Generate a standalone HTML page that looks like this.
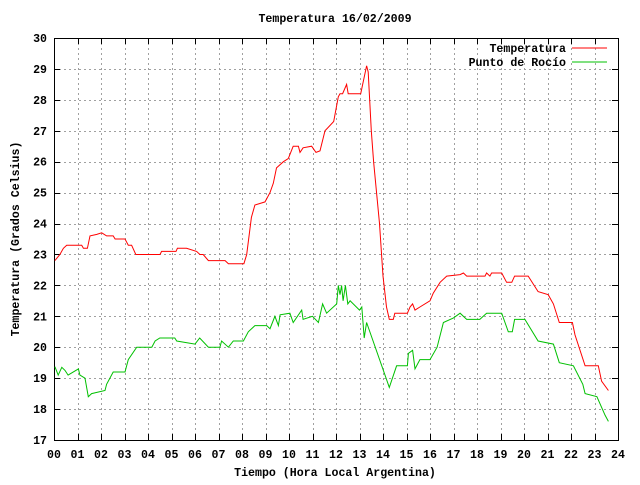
<!DOCTYPE html>
<html><head><meta charset="utf-8"><style>
body{margin:0;background:#fff}
svg text{font-family:"Liberation Mono","DejaVu Sans Mono",monospace;font-weight:bold;font-size:11.6px;fill:#000}
</style></head><body>
<svg width="640" height="480" viewBox="0 0 640 480">
<rect width="640" height="480" fill="#fff"/>
<g id="grid"></g>
<g id="axes"></g>
<g id="series"></g>
<text x="335" y="22" text-anchor="middle">Temperatura 16/02/2009</text>
<text x="335" y="476" text-anchor="middle">Tiempo (Hora Local Argentina)</text>
<text x="0" y="0" text-anchor="middle" transform="translate(19,239) rotate(-90)">Temperatura (Grados Celsius)</text>
<g>
<text x="566" y="52" text-anchor="end">Temperatura</text>
<line x1="572" y1="48" x2="607" y2="48" stroke="#ff0000"/>
<text x="566" y="66" text-anchor="end">Punto de Rocío</text>
<line x1="572" y1="62" x2="607" y2="62" stroke="#00c000"/>
</g>
</svg>
<script>
const xTicks=["00","01","02","03","04","05","06","07","08","09","10","11","12","13","14","15","16","17","18","19","20","21","22","23","24"];
const yTicks=[17,18,19,20,21,22,23,24,25,26,27,28,29,30];
const tempHours=[0.04,0.25,0.4,0.54,1.18,1.25,1.42,1.53,1.82,2.03,2.24,2.52,2.6,3.02,3.16,3.3,3.48,4.51,4.58,5.19,5.25,5.64,6.07,6.21,6.35,6.57,7.28,7.42,8.08,8.2,8.4,8.55,8.98,9.19,9.33,9.47,9.76,9.97,10.18,10.4,10.47,10.6,10.96,11.15,11.32,11.53,11.9,12.1,12.17,12.28,12.45,12.52,13.05,13.3,13.37,13.5,13.6,13.85,14.0,14.15,14.27,14.44,14.5,15.04,15.15,15.26,15.36,15.57,16.0,16.14,16.43,16.71,17.28,17.42,17.56,18.34,18.41,18.55,18.62,19.05,19.26,19.48,19.6,20.18,20.6,21.03,21.25,21.5,22.06,22.17,22.6,23.16,23.3,23.59];
const tempValues=[22.8,23.0,23.2,23.3,23.3,23.2,23.2,23.6,23.65,23.7,23.6,23.6,23.5,23.5,23.3,23.3,23.0,23.0,23.1,23.1,23.2,23.2,23.1,23.0,23.0,22.8,22.8,22.7,22.7,23.0,24.2,24.6,24.7,25.0,25.3,25.8,26.0,26.1,26.5,26.5,26.3,26.45,26.5,26.3,26.35,27.0,27.3,28.1,28.2,28.2,28.5,28.2,28.2,29.1,28.9,27.0,26.0,24.0,22.3,21.3,20.9,20.9,21.1,21.1,21.3,21.4,21.2,21.3,21.5,21.75,22.1,22.3,22.35,22.4,22.3,22.3,22.4,22.3,22.4,22.4,22.1,22.1,22.3,22.3,21.8,21.7,21.4,20.8,20.8,20.4,19.4,19.4,18.9,18.6];
const dewHours=[0.04,0.18,0.33,0.47,0.6,1.04,1.1,1.32,1.46,1.6,2.17,2.24,2.52,3.02,3.16,3.52,4.16,4.3,4.5,5.14,5.22,6.0,6.2,6.57,7.06,7.13,7.42,7.63,8.06,8.27,8.55,9.05,9.19,9.4,9.55,9.62,10.04,10.18,10.54,10.6,11.0,11.25,11.43,11.6,12.03,12.1,12.17,12.24,12.3,12.4,12.5,12.6,13.0,13.1,13.2,13.3,14.27,14.58,15.04,15.08,15.26,15.36,15.57,16.0,16.3,16.57,17.0,17.28,17.56,18.12,18.41,19.05,19.33,19.5,19.6,20.04,20.6,21.25,21.5,22.1,22.5,22.6,23.1,23.45,23.59];
const dewValues=[19.37,19.1,19.35,19.25,19.1,19.3,19.1,19.0,18.4,18.5,18.6,18.8,19.2,19.2,19.6,20.0,20.0,20.2,20.3,20.3,20.2,20.1,20.3,20.0,20.0,20.2,20.0,20.2,20.2,20.5,20.7,20.7,20.6,21.0,20.7,21.05,21.1,20.8,21.2,20.9,21.0,20.8,21.4,21.1,21.4,22.0,21.7,22.0,21.5,22.0,21.4,21.5,21.2,21.3,20.3,20.8,18.7,19.4,19.4,19.8,19.9,19.3,19.6,19.6,20.0,20.8,20.95,21.1,20.9,20.9,21.1,21.1,20.5,20.5,20.9,20.9,20.2,20.1,19.5,19.4,18.8,18.5,18.4,17.8,17.6];
const L=54,R=618,T=38,B=440;
const xs=h=>L+(R-L)*h/24;
const ys=v=>B-(B-T)*(v-17)/13;
const NS="http://www.w3.org/2000/svg";
function mk(tag,attrs,parent){const e=document.createElementNS(NS,tag);for(const k in attrs)e.setAttribute(k,attrs[k]);parent.appendChild(e);return e;}
const grid=document.getElementById('grid'),axes=document.getElementById('axes'),series=document.getElementById('series');
xTicks.forEach((t,i)=>{const x=Math.round(xs(i))+0.5;
 if(i>0&&i<24){const g=mk('line',{x1:x,y1:T,x2:x,y2:B,stroke:'#a0a0a0','stroke-dasharray':'2,3'},grid);
 
 }
 const tk=mk('path',{d:`M${x},${B}v-6M${x},${T}v6`,stroke:'#000'},axes);
 
 
 const lb=mk('text',{x:xs(i),y:458,'text-anchor':'middle'},axes);lb.textContent=t;
 
 
});
yTicks.forEach(v=>{const y=Math.round(ys(v))+0.5;
 if(v>17&&v<30){const g=mk('line',{x1:L,y1:y,x2:R,y2:y,stroke:'#a0a0a0','stroke-dasharray':'2,3'},grid);
 
 }
 const tk=mk('path',{d:`M${L},${y}h6M${R},${y}h-6`,stroke:'#000'},axes);
 
 
 const lb=mk('text',{x:47,y:ys(v)+4,'text-anchor':'end'},axes);lb.textContent=v;
 
 
});
const fr=mk('rect',{x:L+0.5,y:T+0.5,width:R-L,height:B-T,fill:'none',stroke:'#000'},axes);


function line(hs,vs,color,name){const d=hs.map((h,i)=>(i?'L':'M')+xs(h).toFixed(1)+','+ys(vs[i]).toFixed(1)).join('');
 const p=mk('path',{d:d,fill:'none',stroke:color,'stroke-width':1},series);
 
 }
line(tempHours,tempValues,'#ff0000','temperatura-line');
line(dewHours,dewValues,'#00c000','punto-de-rocio-line');
</script>
</body></html>
